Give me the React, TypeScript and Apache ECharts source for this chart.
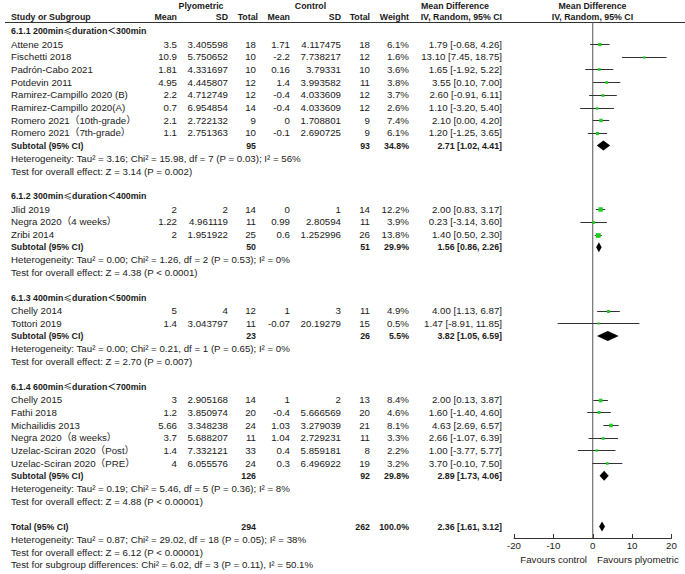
import React, { useEffect, useRef } from "react";
import * as echarts from "echarts";

// ---------- data ----------
const groupLabels = [
  "6.1.1 200min≤duration＜300min",
  "6.1.2 300min≤duration＜400min",
  "6.1.3 400min≤duration＜500min",
  "6.1.4 600min≤duration＜700min",
];
const groupSizes = [8, 3, 2, 6];

const studyNames = [
  "Attene 2015",
  "Fischetti 2018",
  "Padrón-Cabo 2021",
  "Potdevin 2011",
  "Ramirez-Campillo 2020 (B)",
  "Ramirez-Campillo 2020(A)",
  "Romero 2021（10th-grade）",
  "Romero 2021（7th-grade）",
  "Jlid 2019",
  "Negra 2020（4 weeks）",
  "Zribi 2014",
  "Chelly 2014",
  "Tottori 2019",
  "Chelly 2015",
  "Fathi 2018",
  "Michailidis 2013",
  "Negra 2020（8 weeks）",
  "Uzelac-Sciran 2020（Post）",
  "Uzelac-Sciran 2020（PRE）",
];
const plyoMean = [3.5, 10.9, 1.81, 4.95, 2.2, 0.7, 2.1, 1.1, 2, 1.22, 2, 5, 1.4, 3, 1.2, 5.66, 3.7, 1.4, 4];
const plyoSD = [3.405598, 5.750652, 4.331697, 4.445807, 4.712749, 6.954854, 2.722132, 2.751363, 2, 4.961119, 1.951922, 4, 3.043797, 2.905168, 3.850974, 3.348238, 5.688207, 7.332121, 6.055576];
const plyoN = [18, 10, 10, 12, 12, 14, 9, 10, 14, 11, 25, 12, 11, 14, 20, 24, 11, 33, 24];
const ctrlMean = [1.71, -2.2, 0.16, 1.4, -0.4, -0.4, 0, -0.1, 0, 0.99, 0.6, 1, -0.07, 1, -0.4, 1.03, 1.04, 0.4, 0.3];
const ctrlSD = [4.117475, 7.738217, 3.79331, 3.993582, 4.033609, 4.033609, 1.708801, 2.690725, 1, 2.80594, 1.252996, 3, 20.19279, 2, 5.666569, 3.279039, 2.729231, 5.859181, 6.496922];
const ctrlN = [18, 12, 10, 11, 12, 12, 9, 9, 14, 11, 26, 11, 15, 13, 20, 21, 11, 8, 19];
const weights = [6.1, 1.6, 3.6, 3.8, 3.7, 2.6, 7.4, 6.1, 12.2, 3.9, 13.8, 4.9, 0.5, 8.4, 4.6, 8.1, 3.3, 2.2, 3.2];
const md = [1.79, 13.1, 1.65, 3.55, 2.6, 1.1, 2.1, 1.2, 2.0, 0.23, 1.4, 4.0, 1.47, 2.0, 1.6, 4.63, 2.66, 1.0, 3.7];
const ciLow = [-0.68, 7.45, -1.92, 0.1, -0.91, -3.2, 0.0, -1.25, 0.83, -3.14, 0.5, 1.13, -8.91, 0.13, -1.4, 2.69, -1.07, -3.77, -0.1];
const ciHigh = [4.26, 18.75, 5.22, 7.0, 6.11, 5.4, 4.2, 3.65, 3.17, 3.6, 2.3, 6.87, 11.85, 3.87, 4.6, 6.57, 6.39, 5.77, 7.5];

const subPlyoN = [95, 50, 23, 126];
const subCtrlN = [93, 51, 26, 92];
const subWeight = [34.8, 29.9, 5.5, 29.8];
const subMd = [2.71, 1.56, 3.82, 2.89];
const subLow = [1.02, 0.86, 1.05, 1.73];
const subHigh = [4.41, 2.26, 6.59, 4.06];
const subHet = [
  "Heterogeneity: Tau² = 3.16; Chi² = 15.98, df = 7 (P = 0.03); I² = 56%",
  "Heterogeneity: Tau² = 0.00; Chi² = 1.26, df = 2 (P = 0.53); I² = 0%",
  "Heterogeneity: Tau² = 0.00; Chi² = 0.21, df = 1 (P = 0.65); I² = 0%",
  "Heterogeneity: Tau² = 0.19; Chi² = 5.46, df = 5 (P = 0.36); I² = 8%",
];
const subTest = [
  "Test for overall effect: Z = 3.14 (P = 0.002)",
  "Test for overall effect: Z = 4.38 (P < 0.0001)",
  "Test for overall effect: Z = 2.70 (P = 0.007)",
  "Test for overall effect: Z = 4.88 (P < 0.00001)",
];

const totalPlyoN = 294;
const totalCtrlN = 262;
const totalWeight = 100.0;
const totalMd = 2.36;
const totalLow = 1.61;
const totalHigh = 3.12;
const totalNotes = [
  "Heterogeneity: Tau² = 0.87; Chi² = 29.02, df = 18 (P = 0.05); I² = 38%",
  "Test for overall effect: Z = 6.12 (P < 0.00001)",
  "Test for subgroup differences: Chi² = 6.02, df = 3 (P = 0.11), I² = 50.1%",
];

const xTicks = { min: -20, max: 20, interval: 10 };
const favourLabels = ["Favours control", "Favours plyometric"];

// ---------- layout ----------
const W = 685;
const H = 574;
const ROW0 = 44;
const ROW_H = 12.7;
const GRID_LEFT = 514;
const GRID_RIGHT_X = 671.5;
const GRID_TOP = 22;
const GRID_BOTTOM_Y = 538;
const FONT = "'Liberation Sans', Arial, 'Noto Sans CJK SC', sans-serif";
const CJK = "'Noto Sans CJK SC', 'Liberation Sans', sans-serif";
const TXT = "#1a1a1a";
const REG = 9.7;
const BOLD = 8.8;

const X_NAME = 11;
const X_PMEAN = 177;
const X_PSD = 228;
const X_PN = 256;
const X_CMEAN = 290;
const X_CSD = 341;
const X_CN = 370;
const X_W = 409;
const X_CI = 502;

const rowY = (r: number) => ROW0 + r * ROW_H;

function txt(x: number, y: number, s: string, align = "left", bold = false) {
  return {
    type: "text",
    x,
    y,
    silent: true,
    style: {
      text: s,
      fill: TXT,
      fontFamily: FONT,
      fontSize: bold ? BOLD : REG,
      fontWeight: bold ? "bold" : "normal",
      align,
      verticalAlign: "middle",
      textAlign: align,
      textVerticalAlign: "middle",
    },
  };
}

function headingTxt(x: number, y: number, s: string) {
  const idx = s.indexOf("≤");
  const a = s.slice(0, idx);
  const b = s.slice(idx + 1);
  const base = { fontFamily: FONT, fontSize: BOLD, fontWeight: "bold", fill: TXT };
  return {
    type: "text",
    x,
    y,
    silent: true,
    style: {
      text: `{a|${a}}{b|≤}{a|${b}}`,
      rich: {
        a: base,
        b: { fontFamily: CJK, fontSize: BOLD, fontWeight: "normal", fill: TXT },
      },
      fill: TXT,
      fontFamily: FONT,
      fontSize: BOLD,
      align: "left",
      verticalAlign: "middle",
      textAlign: "left",
      textVerticalAlign: "middle",
    },
  };
}

const ci = (m: number, l: number, h: number) => `${m.toFixed(2)} [${l.toFixed(2)}, ${h.toFixed(2)}]`;

export default function App() {
  const ref = useRef<HTMLDivElement>(null);

  useEffect(() => {
    if (!ref.current) return;
    const chart = echarts.init(ref.current, undefined, { renderer: "svg" });

    const headingRows: number[] = [];
    const studyRows: number[] = [];
    const subRows: number[] = [];
    let r = -1;
    groupSizes.forEach((n) => {
      headingRows.push(r);
      r++;
      for (let i = 0; i < n; i++) studyRows.push(r++);
      subRows.push(r);
      r += 3;
      r++;
    });
    const totalRow = r;

    const g: any[] = [];
    g.push(txt(201, 6, "Plyometric", "center", true));
    g.push(txt(310.5, 6, "Control", "center", true));
    g.push(txt(455, 6, "Mean Difference", "center", true));
    g.push(txt(592.5, 6, "Mean Difference", "center", true));
    const hy = 17.3;
    g.push(txt(X_NAME, hy, "Study or Subgroup", "left", true));
    g.push(txt(X_PMEAN, hy, "Mean", "right", true));
    g.push(txt(X_PSD, hy, "SD", "right", true));
    g.push(txt(X_PN + 2, hy, "Total", "right", true));
    g.push(txt(X_CMEAN, hy, "Mean", "right", true));
    g.push(txt(X_CSD, hy, "SD", "right", true));
    g.push(txt(X_CN, hy, "Total", "right", true));
    g.push(txt(X_W, hy, "Weight", "right", true));
    g.push(txt(X_CI, hy, "IV, Random, 95% CI", "right", true));
    g.push(txt(592.5, hy, "IV, Random, 95% CI", "center", true));
    g.push({
      type: "line",
      silent: true,
      shape: { x1: 5, y1: 22.5, x2: W, y2: 22.5 },
      style: { stroke: "#333", lineWidth: 1 },
    });

    groupLabels.forEach((lab, gi) => {
      g.push(headingTxt(X_NAME, rowY(headingRows[gi]), lab));
      const sr = subRows[gi];
      g.push(txt(X_NAME, rowY(sr), "Subtotal (95% CI)", "left", true));
      g.push(txt(X_PN, rowY(sr), String(subPlyoN[gi]), "right", true));
      g.push(txt(X_CN, rowY(sr), String(subCtrlN[gi]), "right", true));
      g.push(txt(X_W, rowY(sr), subWeight[gi].toFixed(1) + "%", "right", true));
      g.push(txt(X_CI, rowY(sr), ci(subMd[gi], subLow[gi], subHigh[gi]), "right", true));
      g.push(txt(X_NAME, rowY(sr + 1), subHet[gi]));
      g.push(txt(X_NAME, rowY(sr + 2), subTest[gi]));
    });

    studyNames.forEach((name, i) => {
      const y = rowY(studyRows[i]);
      g.push(txt(X_NAME, y, name));
      g.push(txt(X_PMEAN, y, String(plyoMean[i]), "right"));
      g.push(txt(X_PSD, y, String(plyoSD[i]), "right"));
      g.push(txt(X_PN, y, String(plyoN[i]), "right"));
      g.push(txt(X_CMEAN, y, String(ctrlMean[i]), "right"));
      g.push(txt(X_CSD, y, String(ctrlSD[i]), "right"));
      g.push(txt(X_CN, y, String(ctrlN[i]), "right"));
      g.push(txt(X_W, y, weights[i].toFixed(1) + "%", "right"));
      g.push(txt(X_CI, y, ci(md[i], ciLow[i], ciHigh[i]), "right"));
    });

    const ty = rowY(totalRow);
    g.push(txt(X_NAME, ty, "Total (95% CI)", "left", true));
    g.push(txt(X_PN, ty, String(totalPlyoN), "right", true));
    g.push(txt(X_CN, ty, String(totalCtrlN), "right", true));
    g.push(txt(X_W, ty, totalWeight.toFixed(1) + "%", "right", true));
    g.push(txt(X_CI, ty, ci(totalMd, totalLow, totalHigh), "right", true));
    totalNotes.forEach((s, k) => g.push(txt(X_NAME, rowY(totalRow + 1 + k), s)));

    g.push(txt(587, 559.5, favourLabels[0], "right"));
    g.push(txt(597, 559.5, favourLabels[1], "left"));

    const yMin = (GRID_TOP - ROW0) / ROW_H;
    const yMax = (GRID_BOTTOM_Y - ROW0) / ROW_H;

    const studyData = studyNames.map((_, i) => [md[i], ciLow[i], ciHigh[i], studyRows[i], weights[i]]);
    const diamondData = subMd
      .map((m, i) => [m, subLow[i], subHigh[i], subRows[i]])
      .concat([[totalMd, totalLow, totalHigh, totalRow]]);

    chart.setOption({
      animation: false,
      backgroundColor: "#fff",
      grid: { left: GRID_LEFT, top: GRID_TOP, width: GRID_RIGHT_X - GRID_LEFT, height: GRID_BOTTOM_Y - GRID_TOP },
      xAxis: {
        type: "value",
        min: xTicks.min,
        max: xTicks.max,
        interval: xTicks.interval,
        axisLine: { onZero: false, lineStyle: { color: "#333", width: 1 } },
        axisTick: { show: true, inside: true, length: 4, lineStyle: { color: "#333" } },
        splitLine: { show: false },
        axisLabel: { fontSize: REG, color: TXT, fontFamily: FONT, margin: 3 },
      },
      yAxis: { type: "value", inverse: true, min: yMin, max: yMax, show: false },
      series: [
        {
          type: "line",
          data: [[0, yMin], [0, yMax]],
          showSymbol: false,
          symbol: "none",
          lineStyle: { color: "#555", width: 1 },
          silent: true,
          z: 1,
        },
        {
          type: "custom",
          z: 3,
          encode: { x: [0, 1, 2], y: 3 },
          data: studyData,
          renderItem: (params: any, api: any) => {
            const m = api.value(0), lo = api.value(1), hi = api.value(2), row = api.value(3), w = api.value(4);
            const pL = api.coord([lo, row]);
            const pR = api.coord([hi, row]);
            const pM = api.coord([m, row]);
            const y = Math.round(pM[1]) + 0.5;
            const s = Math.max(2.2, 2 + 0.2 * w);
            return {
              type: "group",
              children: [
                { type: "line", shape: { x1: pL[0], y1: y, x2: pR[0], y2: y }, style: { stroke: "#333", lineWidth: 1 } },
                { type: "rect", shape: { x: pM[0] - s / 2, y: y - s / 2, width: s, height: s }, style: { fill: "#22cc22" } },
              ],
            };
          },
        },
        {
          type: "custom",
          z: 3,
          encode: { x: [0, 1, 2], y: 3 },
          data: diamondData,
          renderItem: (params: any, api: any) => {
            const m = api.value(0), lo = api.value(1), hi = api.value(2), row = api.value(3);
            const pL = api.coord([lo, row]);
            const pR = api.coord([hi, row]);
            const pM = api.coord([m, row]);
            const h = 5;
            return {
              type: "polygon",
              shape: { points: [[pL[0], pM[1]], [pM[0], pM[1] - h], [pR[0], pM[1]], [pM[0], pM[1] + h]] },
              style: { fill: "#000" },
            };
          },
        },
      ],
      graphic: g,
    });

    return () => chart.dispose();
  }, []);

  return (
    <div
      ref={ref}
      style={{ position: "fixed", left: 0, top: 0, width: W, height: H, background: "#fff" }}
    />
  );
}
